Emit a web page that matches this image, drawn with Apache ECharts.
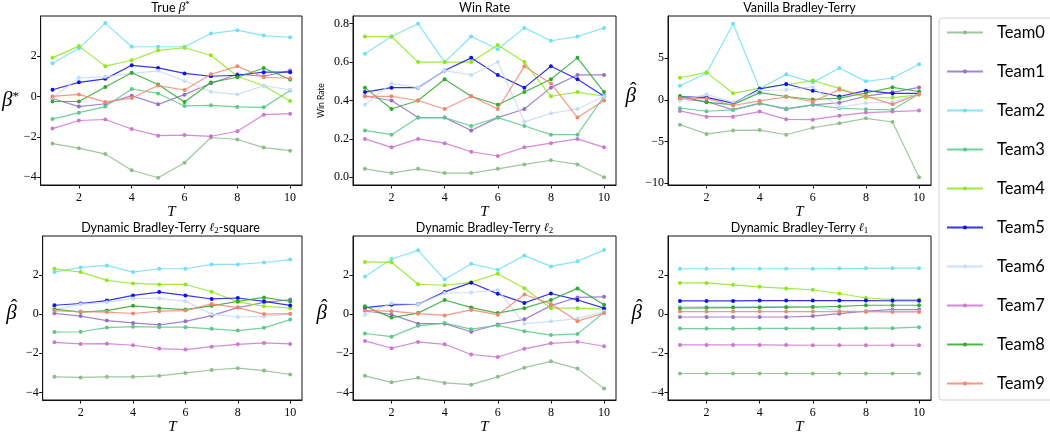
<!DOCTYPE html>
<html>
<head>
<meta charset="utf-8">
<script src="https://cdn.jsdelivr.net/npm/echarts@6.0.0/dist/echarts.min.js"></script>
<style>
html,body{margin:0;padding:0;background:#fff;}
#chart{width:1050px;height:436px;}
</style>
</head>
<body>
<div id="chart"></div>
<script>
// ---------- data ----------
const T = [1,2,3,4,5,6,7,8,9,10];
const teams = ['Team0','Team1','Team2','Team3','Team4','Team5','Team6','Team7','Team8','Team9'];
const teamColors = ['#8fbc8f','#9370c8','#70e0f5','#5cc98a','#8fe81e','#1010e8','#c5dcf5','#cc77d0','#2eaa2e','#f4866e'];

const xTicks = [2,4,6,8,10];
const betaTicks = [-4,-2,0,2];
const winTicks = [0,0.2,0.4,0.6,0.8];
const vanillaTicks = [-10,-5,0,5];

const trueBeta = [
  [-2.33,-2.56,-2.85,-3.65,-4.02,-3.28,-2.03,-2.13,-2.53,-2.68],
  [-0.1,-0.5,-0.36,0.04,-0.39,0.09,0.65,1.1,1.0,1.28],
  [1.64,2.38,3.63,2.46,2.46,2.46,3.11,3.28,3.01,2.93],
  [-1.12,-0.8,-0.5,0.37,0.15,-0.47,-0.44,-0.52,-0.54,0.3],
  [1.91,2.49,1.5,1.79,2.28,2.41,2.04,1.0,0.53,-0.22],
  [0.33,0.7,0.87,1.54,1.41,1.14,1.0,1.05,1.2,1.2],
  [-0.08,0.92,0.97,1.14,1.27,0.77,0.23,0.1,0.53,0.33],
  [-1.59,-1.19,-1.14,-1.61,-1.94,-1.91,-1.97,-1.72,-0.9,-0.85],
  [-0.25,-0.25,0.47,1.17,0.59,-0.27,0.69,0.95,1.41,0.84],
  [0.0,0.1,-0.27,-0.08,0.54,0.32,1.1,1.49,0.95,0.9]
];
const winRate = [
  [0.044,0.022,0.044,0.022,0.022,0.044,0.067,0.089,0.067,0.0],
  [0.422,0.4,0.311,0.311,0.244,0.311,0.356,0.467,0.533,0.533],
  [0.644,0.733,0.8,0.6,0.733,0.667,0.778,0.711,0.733,0.778],
  [0.244,0.222,0.311,0.311,0.267,0.311,0.267,0.222,0.222,0.422],
  [0.733,0.733,0.6,0.6,0.6,0.689,0.6,0.422,0.444,0.422],
  [0.444,0.467,0.467,0.556,0.622,0.533,0.467,0.578,0.511,0.422],
  [0.378,0.489,0.467,0.556,0.533,0.6,0.289,0.333,0.356,0.422],
  [0.2,0.156,0.2,0.178,0.133,0.111,0.156,0.178,0.2,0.156],
  [0.467,0.356,0.4,0.511,0.422,0.378,0.444,0.511,0.622,0.444],
  [0.422,0.422,0.4,0.356,0.422,0.356,0.578,0.489,0.311,0.4]
];
const vanillaBT = [
  [-2.98,-4.11,-3.67,-3.63,-4.19,-3.35,-2.82,-2.22,-2.66,-9.31],
  [0.1,-0.2,-1.2,-0.44,-1.13,-0.6,-0.35,0.44,0.9,1.49],
  [1.69,3.2,9.15,1.37,3.06,2.1,3.83,2.22,2.62,4.27],
  [-1.0,-1.37,-1.2,-0.4,-1.04,-0.6,-1.0,-1.13,-1.2,0.7],
  [2.65,3.3,0.78,1.4,1.8,2.32,1.38,0.25,0.27,0.6],
  [0.36,0.3,-0.4,1.3,1.9,1.09,0.4,1.1,0.77,0.77],
  [-0.1,0.65,-0.3,1.09,1.21,1.55,-0.9,-0.38,-0.3,0.7],
  [-1.33,-2.02,-2.02,-1.41,-2.34,-2.38,-1.9,-1.53,-1.41,-1.29],
  [0.46,-0.3,-0.58,0.87,0.4,0.04,0.2,0.82,1.5,1.0],
  [0.2,0.16,-0.68,-0.12,0.34,-0.2,1.21,0.48,-0.54,0.7]
];
const dbtL2Square = [
  [-3.2,-3.23,-3.2,-3.2,-3.15,-3.0,-2.85,-2.76,-2.88,-3.08],
  [0.04,-0.1,-0.33,-0.45,-0.55,-0.37,-0.08,0.33,0.6,0.74],
  [2.14,2.38,2.48,2.14,2.31,2.31,2.53,2.53,2.63,2.78],
  [-0.92,-0.9,-0.69,-0.64,-0.67,-0.67,-0.75,-0.84,-0.7,-0.28],
  [2.31,2.14,1.72,1.56,1.51,1.51,1.14,0.62,0.4,0.3],
  [0.45,0.54,0.69,0.95,1.12,0.95,0.77,0.82,0.65,0.44],
  [0.23,0.5,0.6,0.8,0.8,0.66,0.0,-0.15,-0.12,0.0],
  [-1.44,-1.52,-1.51,-1.59,-1.76,-1.81,-1.66,-1.54,-1.47,-1.52],
  [0.25,0.1,0.18,0.42,0.3,0.23,0.42,0.65,0.85,0.64],
  [0.17,0.13,0.1,0.03,0.15,0.18,0.52,0.33,0.0,0.02]
];
const dbtL2 = [
  [-3.15,-3.48,-3.25,-3.51,-3.6,-3.2,-2.73,-2.41,-2.78,-3.8],
  [0.18,-0.03,-0.49,-0.49,-0.9,-0.53,-0.27,0.43,0.85,0.88],
  [1.91,2.81,3.25,1.76,2.56,2.26,2.98,2.43,2.69,3.26],
  [-0.99,-1.15,-0.6,-0.46,-0.77,-0.58,-0.87,-1.07,-1.01,0.08],
  [2.66,2.64,1.52,1.47,1.62,2.06,1.32,0.3,0.3,0.25],
  [0.33,0.47,0.5,1.13,1.6,1.03,0.57,1.05,0.72,0.3],
  [-0.03,0.55,0.5,1.07,1.1,1.23,-0.49,-0.37,-0.23,0.13],
  [-1.37,-1.74,-1.42,-1.54,-2.06,-2.19,-1.77,-1.49,-1.41,-1.64],
  [0.4,-0.18,0.05,0.72,0.33,0.05,0.3,0.72,1.31,0.47],
  [0.18,0.15,0.02,-0.07,0.21,-0.03,1.0,0.52,-0.36,0.05]
];
const dbtL1 = [
  [-3.03,-3.03,-3.03,-3.03,-3.03,-3.03,-3.03,-3.03,-3.03,-3.03],
  [-0.15,-0.15,-0.15,-0.15,-0.15,-0.1,0.02,0.15,0.23,0.23],
  [2.31,2.31,2.31,2.31,2.31,2.31,2.32,2.33,2.34,2.34],
  [-0.74,-0.74,-0.74,-0.73,-0.73,-0.73,-0.73,-0.72,-0.72,-0.67],
  [1.59,1.59,1.49,1.39,1.31,1.24,1.05,0.82,0.74,0.74],
  [0.67,0.67,0.67,0.69,0.69,0.69,0.69,0.69,0.68,0.68],
  [0.38,0.38,0.38,0.38,0.38,0.37,0.18,0.13,0.13,0.13],
  [-1.57,-1.57,-1.57,-1.57,-1.58,-1.59,-1.59,-1.59,-1.59,-1.59],
  [0.3,0.32,0.33,0.34,0.35,0.36,0.39,0.45,0.45,0.45],
  [0.13,0.13,0.13,0.13,0.13,0.13,0.13,0.12,0.11,0.11]
];

// ---------- layout ----------
const panels = [
  {data: trueBeta,    left: 39,  top: 16,  h: 169, ymin: -4.38, ymax: 3.98,  ticks: betaTicks,    ylab: 'star', gap: 17},
  {data: winRate,     left: 353, top: 16,  h: 169, ymin: -0.04, ymax: 0.84,  ticks: winTicks,     ylab: 'win',  gap: 27},
  {data: vanillaBT,   left: 668, top: 16,  h: 169, ymin: -10.23, ymax: 10.07, ticks: vanillaTicks, ylab: 'hat',  gap: 25},
  {data: dbtL2Square, left: 39,  top: 236, h: 167, ymin: -4.38, ymax: 3.98,  ticks: betaTicks,    ylab: 'hat',  gap: 19},
  {data: dbtL2,       left: 353, top: 236, h: 167, ymin: -4.38, ymax: 3.98,  ticks: betaTicks,    ylab: 'hat',  gap: 20},
  {data: dbtL1,       left: 668, top: 236, h: 167, ymin: -4.38, ymax: 3.98,  ticks: betaTicks,    ylab: 'hat',  gap: 20}
];
const W = 263;
const serif = 'Liberation Serif';
const sans = 'Lato';
const minus = s => String(s).replace('-', '\u2212');

const grids = [], xAxes = [], yAxes = [], series = [];
panels.forEach((p, pi) => {
  grids.push({left: p.left, top: p.top, width: W, height: p.h, show: true, borderColor: '#111', borderWidth: 1, containLabel: false});
  xAxes.push({
    gridIndex: pi, type: 'value', min: 0.55, max: 10.45,
    axisLine: {show: true, onZero: false, lineStyle: {color: '#111', width: 1}},
    axisTick: {show: true, length: 3.5, customValues: xTicks, lineStyle: {color: '#111'}},
    axisLabel: {customValues: xTicks, fontFamily: serif, fontSize: 12, color: '#000', margin: 7},
    splitLine: {show: false},
    name: 'T', nameLocation: 'middle', nameGap: 20,
    nameTextStyle: {fontFamily: serif, fontStyle: 'italic', fontSize: 15, color: '#000'}
  });
  let yName, yNameStyle, yRotate = 0;
  if (p.ylab === 'star') {
    yName = '{b|\u03b2}{s|*}';
    yNameStyle = {rich: {b: {fontFamily: serif, fontStyle: 'italic', fontSize: 21, color: '#000'},
                         s: {fontFamily: serif, fontSize: 13, color: '#000', verticalAlign: 'top', padding: [0,0,8,0]}}};
  } else if (p.ylab === 'win') {
    yName = 'Win Rate';
    yRotate = 90;
    yNameStyle = {fontFamily: sans, fontSize: 8.5, color: '#000'};
  } else {
    yName = '{h|\u02c6}\n{b|\u03b2}';
    yNameStyle = {rich: {
      h: {fontFamily: serif, fontSize: 20, color: '#000', width: 14, align: 'center', lineHeight: 1, padding: [0,0,0,5]},
      b: {fontFamily: serif, fontStyle: 'italic', fontSize: 21, color: '#000', width: 14, align: 'center', lineHeight: 18, padding: [0,0,10,0]}
    }};
  }
  yAxes.push({
    gridIndex: pi, type: 'value', min: p.ymin, max: p.ymax,
    axisLine: {show: true, onZero: false, lineStyle: {color: '#111', width: 1}},
    axisTick: {show: true, length: 3.5, customValues: p.ticks, lineStyle: {color: '#111'}},
    axisLabel: {customValues: p.ticks, fontFamily: serif, fontSize: 12, color: '#000', margin: 4,
      formatter: v => p.ylab === 'win' ? Number(v).toFixed(1) : minus(v)},
    splitLine: {show: false},
    name: yName, nameLocation: 'middle', nameRotate: yRotate, nameGap: p.gap,
    nameTextStyle: yNameStyle
  });
  p.data.forEach((vals, k) => {
    series.push({
      type: 'line', name: teams[k], xAxisIndex: pi, yAxisIndex: pi,
      data: T.map((t, i) => [t, vals[i]]),
      symbol: 'circle', symbolSize: 4, showSymbol: true,
      lineStyle: {width: 1.2, color: teamColors[k], opacity: 0.85},
      itemStyle: {color: teamColors[k]},
      emphasis: {disabled: true}, z: 2 + k
    });
  });
});

// panel titles
const titleRich = {
  a: {fontFamily: sans, fontSize: 12.5, fill: '#000', color: '#000'},
  b: {fontFamily: serif, fontStyle: 'italic', fontSize: 13, fill: '#000', color: '#000'},
  s: {fontFamily: serif, fontSize: 9, fill: '#000', color: '#000', verticalAlign: 'top', padding: [0,0,6,0]},
  l: {fontFamily: 'DejaVu Serif', fontStyle: 'italic', fontSize: 12, fill: '#000', color: '#000'},
  d: {fontFamily: serif, fontSize: 9, fill: '#000', color: '#000', verticalAlign: 'bottom', padding: [6,0,0,0]}
};
const titles = [
  '{a|True }{b|\u03b2}{s|*}',
  '{a|Win Rate}',
  '{a|Vanilla Bradley-Terry}',
  '{a|Dynamic Bradley-Terry }{l|\u2113}{d|2}{a|-square}',
  '{a|Dynamic Bradley-Terry }{l|\u2113}{d|2}',
  '{a|Dynamic Bradley-Terry }{l|\u2113}{d|1}'
];
const graphics = panels.map((p, pi) => ({
  type: 'text', x: p.left + W / 2, y: p.top - 8,
  style: {text: titles[pi], rich: titleRich, align: 'center', verticalAlign: 'middle', fill: '#000'}
}));

const chart = echarts.init(document.getElementById('chart'), null, {renderer: 'canvas'});
chart.setOption({
  animation: false,
  backgroundColor: '#fff',
  grid: grids, xAxis: xAxes, yAxis: yAxes, series: series,
  graphic: graphics,
  legend: {
    data: teams, orient: 'vertical', left: 939, top: 18,
    itemWidth: 36, itemHeight: 5, itemGap: 22,
    padding: [6, 9, 8, 7],
    borderColor: '#d0d0d0', borderWidth: 1, borderRadius: 3,
    selectedMode: false,
    textStyle: {fontFamily: sans, fontSize: 16.5, color: '#000', lineHeight: 14, padding: [0, 0, 0, 9]}
  }
});
</script>
</body>
</html>
